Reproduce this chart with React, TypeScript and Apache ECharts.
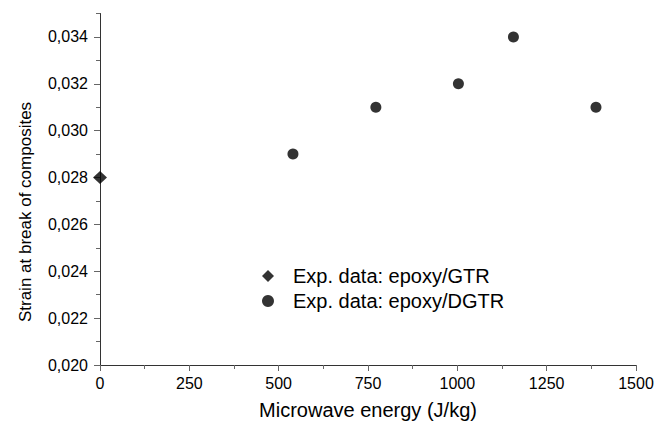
import React, { useEffect, useRef } from "react";
import * as echarts from "echarts";

const gtrData: [number, number][] = [[0, 0.028]];
const dgtrData: [number, number][] = [
  [540, 0.029],
  [772, 0.031],
  [1003, 0.032],
  [1157, 0.034],
  [1388, 0.031],
];
const yMajorTicks = [0.02, 0.022, 0.024, 0.026, 0.028, 0.03, 0.032, 0.034];
const yMinorTicks = [0.021, 0.023, 0.025, 0.027, 0.029, 0.031, 0.033, 0.035];
const seriesNames = ["Exp. data: epoxy/GTR", "Exp. data: epoxy/DGTR"];
const xAxisName = "Microwave energy (J/kg)";
const yAxisName = "Strain at break of composites";

const FONT = "Liberation Sans, Arial, sans-serif";

export default function App() {
  const ref = useRef<HTMLDivElement>(null);
  useEffect(() => {
    const chart = echarts.init(ref.current!, null, { renderer: "svg" });
    chart.setOption({
      animation: false,
      backgroundColor: "#fff",
      textStyle: { fontFamily: FONT },
      grid: { left: 100, right: 31, top: 13.5, bottom: 60, containLabel: false },
      graphic: [
        {
          type: "text",
          x: 25,
          y: 212,
          rotation: Math.PI / 2,
          style: {
            text: yAxisName,
            fontSize: 17,
            fontFamily: FONT,
            fill: "#000",
            align: "center",
            verticalAlign: "middle",
          },
        },
      ],
      legend: {
        orient: "vertical",
        left: 257,
        top: 261,
        itemWidth: 12,
        itemHeight: 12,
        itemGap: 5,
        textStyle: { fontSize: 20, color: "#000", fontFamily: FONT, padding: [0, 0, 0, 14] },
        data: [
          { name: seriesNames[0], icon: "diamond" },
          { name: seriesNames[1], icon: "circle" },
        ],
      },
      xAxis: {
        type: "value",
        min: 0,
        max: 1500,
        interval: 250,
        name: xAxisName,
        nameLocation: "middle",
        nameGap: 35,
        nameTextStyle: { fontSize: 20, color: "#000", fontFamily: FONT },
        axisLine: { show: true, lineStyle: { color: "#333", width: 1 } },
        axisTick: { show: true, inside: false, length: 6, lineStyle: { color: "#666" } },
        minorTick: { show: true, splitNumber: 2, length: 4, lineStyle: { color: "#666" } },
        axisLabel: {
          fontSize: 16,
          color: "#000",
          margin: 10,
          fontFamily: FONT,
          formatter: (v: number) => String(v),
        },
        splitLine: { show: false },
        minorSplitLine: { show: false },
      },
      yAxis: [
        {
          type: "value",
          min: 0.02,
          max: 0.035,
          axisLine: { show: true, lineStyle: { color: "#333", width: 1 } },
          axisTick: {
            show: true,
            inside: false,
            length: 6,
            customValues: yMajorTicks,
            lineStyle: { color: "#666" },
          },
          axisLabel: {
            fontSize: 16,
            color: "#000",
            margin: 12,
            fontFamily: FONT,
            customValues: yMajorTicks,
            formatter: (v: number) => v.toFixed(3).replace(".", ","),
          },
          splitLine: { show: false },
        },
        {
          type: "value",
          position: "left",
          min: 0.02,
          max: 0.035,
          axisLine: { show: false },
          axisTick: {
            show: true,
            inside: false,
            length: 4,
            customValues: yMinorTicks,
            lineStyle: { color: "#666" },
          },
          axisLabel: { show: false },
          splitLine: { show: false },
        },
      ],
      series: [
        {
          name: seriesNames[0],
          type: "scatter",
          symbol: "diamond",
          symbolSize: [14, 13],
          itemStyle: { color: "#000" },
          data: gtrData,
          clip: false,
          z: 5,
        },
        {
          name: seriesNames[1],
          type: "scatter",
          symbol: "circle",
          symbolSize: 11,
          itemStyle: { color: "#000" },
          data: dgtrData,
          clip: false,
          z: 5,
        },
      ],
    });
    return () => chart.dispose();
  }, []);
  return (
    <div
      ref={ref}
      style={{ width: 667, height: 425, position: "absolute", left: 0, top: 0 }}
    />
  );
}
